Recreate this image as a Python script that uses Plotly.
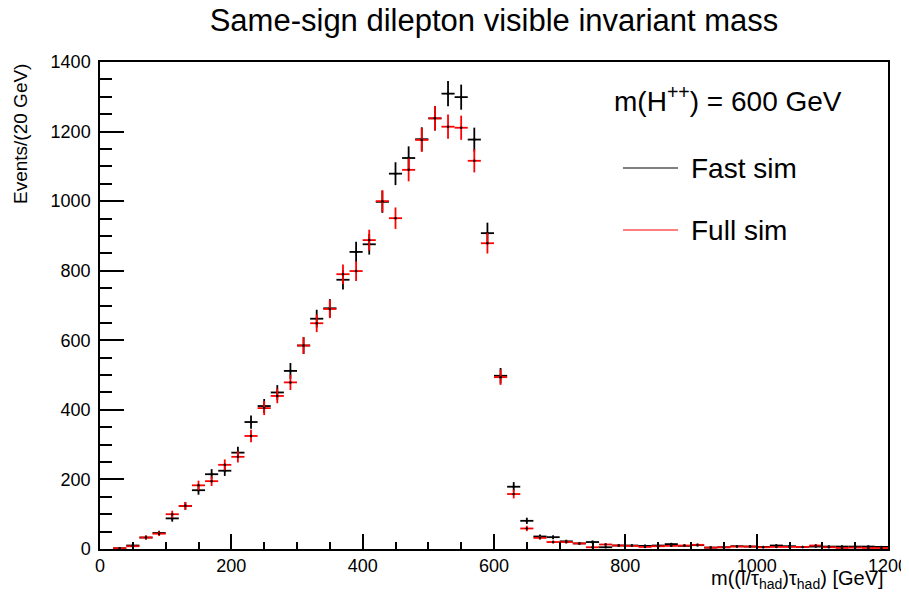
import numpy as np
import plotly.graph_objects as go

# ---- data ----
bin_width = 20
bin_centers = list(range(10, 1200, 20))  # 60 bins, 0..1200 GeV

fast_sim = [None, 2, 10, 33, 46, 88, 124, 169, 215, 225,
            277, 365, 411, 450, 512, 585, 662, 692, 774, 854,
            876, 998, 1079, 1124, 1178, 1238, 1309, 1299, 1177, 908,
            498, 179, 81, 36, 34, 22, 16, 20, 5, 10,
            10, 9, 10, 14, 9, 11, 4, 5, 8, 7,
            6, 10, 8, 6, 7, 7, 7, 7, 7, 6]

full_sim = [None, 2, 8, 33, 44, 100, 124, 183, 195, 242,
            265, 325, 405, 440, 479, 585, 649, 690, 790, 799,
            888, 1000, 951, 1090, 1176, 1238, 1214, 1211, 1116, 879,
            494, 158, 59, 32, 20, 20, 16, 5, 13, 10,
            9, 6, 8, 9, 10, 12, 4, 5, 7, 7,
            5, 6, 6, 6, 10, 5, 3, 4, 3, 3]

series = [("Fast sim", fast_sim, "#000000"), ("Full sim", full_sim, "#ff0000")]

font_family = "Liberation Sans, Arial, Helvetica, sans-serif"

fig = go.Figure()
for name, vals, col in series:
    y = np.array([np.nan if v is None else v for v in vals], dtype=float)
    fig.add_trace(go.Scatter(
        x=bin_centers, y=y, mode="markers", name=name,
        marker=dict(size=2.5, color="#000000"),
        error_y=dict(type="data", array=np.sqrt(y), color=col, thickness=1.8, width=0),
        error_x=dict(type="constant", value=bin_width / 2, color=col, thickness=1.8, width=0),
        showlegend=False,
    ))

# page body has an 8px margin -> figure starts at (8, 8) in the window
OFF = 8
W, H = 909 - OFF, 598 - OFF
L, T = 100 - OFF, 62 - OFF
pw, ph = 788, 487
R, B = W - L - pw, H - T - ph

def px(xp):  # window pixel -> paper x
    return (xp - OFF - L) / pw

def py(yp):  # window pixel -> paper y
    return (T + ph - (yp - OFF)) / ph

fig.update_layout(
    width=W, height=H,
    margin=dict(l=L, r=R, t=T, b=B, autoexpand=False),
    paper_bgcolor="white", plot_bgcolor="white",
    font=dict(family=font_family, color="black"),
    title=dict(text="Same-sign dilepton visible invariant mass",
               x=(L + pw / 2) / W, xanchor="center", y=1 - (20 - OFF) / H, yanchor="middle",
               font=dict(size=31, family=font_family, color="black")),
    xaxis=dict(range=[0, 1200], dtick=200, tick0=0, ticks="inside", ticklen=15, tickwidth=1.5,
               tickcolor="black", showline=True, linecolor="black", linewidth=1.5, mirror=True,
               showgrid=False, zeroline=False, tickfont=dict(size=18),
               minor=dict(dtick=50, ticks="inside", ticklen=7, tickwidth=1.5, tickcolor="black")),
    yaxis=dict(range=[0, 1400], dtick=200, tick0=0, ticks="inside", ticklen=24, tickwidth=1.5,
               tickcolor="black", showline=True, linecolor="black", linewidth=1.5, mirror=True,
               showgrid=False, zeroline=False, tickfont=dict(size=18), ticklabelstandoff=4,
               minor=dict(dtick=50, ticks="inside", ticklen=12, tickwidth=1.5, tickcolor="black")),
)

# axis titles
fig.add_annotation(text="Events/(20 GeV)", xref="paper", yref="paper",
                   x=px(20), y=1.0, xanchor="center", yanchor="top", textangle=-90,
                   showarrow=False, font=dict(size=19))
fig.add_annotation(text="m((l/τ<sub>had</sub>)τ<sub>had</sub>) [GeV]", xref="paper", yref="paper",
                   x=px(886), y=py(579), xanchor="right", yanchor="middle",
                   showarrow=False, font=dict(size=20))

# legend block
fig.add_annotation(text="m(H<sup>++</sup>) = 600 GeV", xref="paper", yref="paper",
                   x=px(612), y=py(99), xanchor="left", yanchor="middle",
                   showarrow=False, font=dict(size=28))
for (name, _, col), yp in zip(series, [168, 230]):
    fig.add_shape(type="line", xref="paper", yref="paper",
                  x0=px(623), x1=px(678), y0=py(yp), y1=py(yp),
                  line=dict(color=col, width=1.2))
    fig.add_annotation(text=name, xref="paper", yref="paper",
                       x=px(689), y=py(yp), xanchor="left", yanchor="middle",
                       showarrow=False, font=dict(size=28))

fig.write_html("out.html")
